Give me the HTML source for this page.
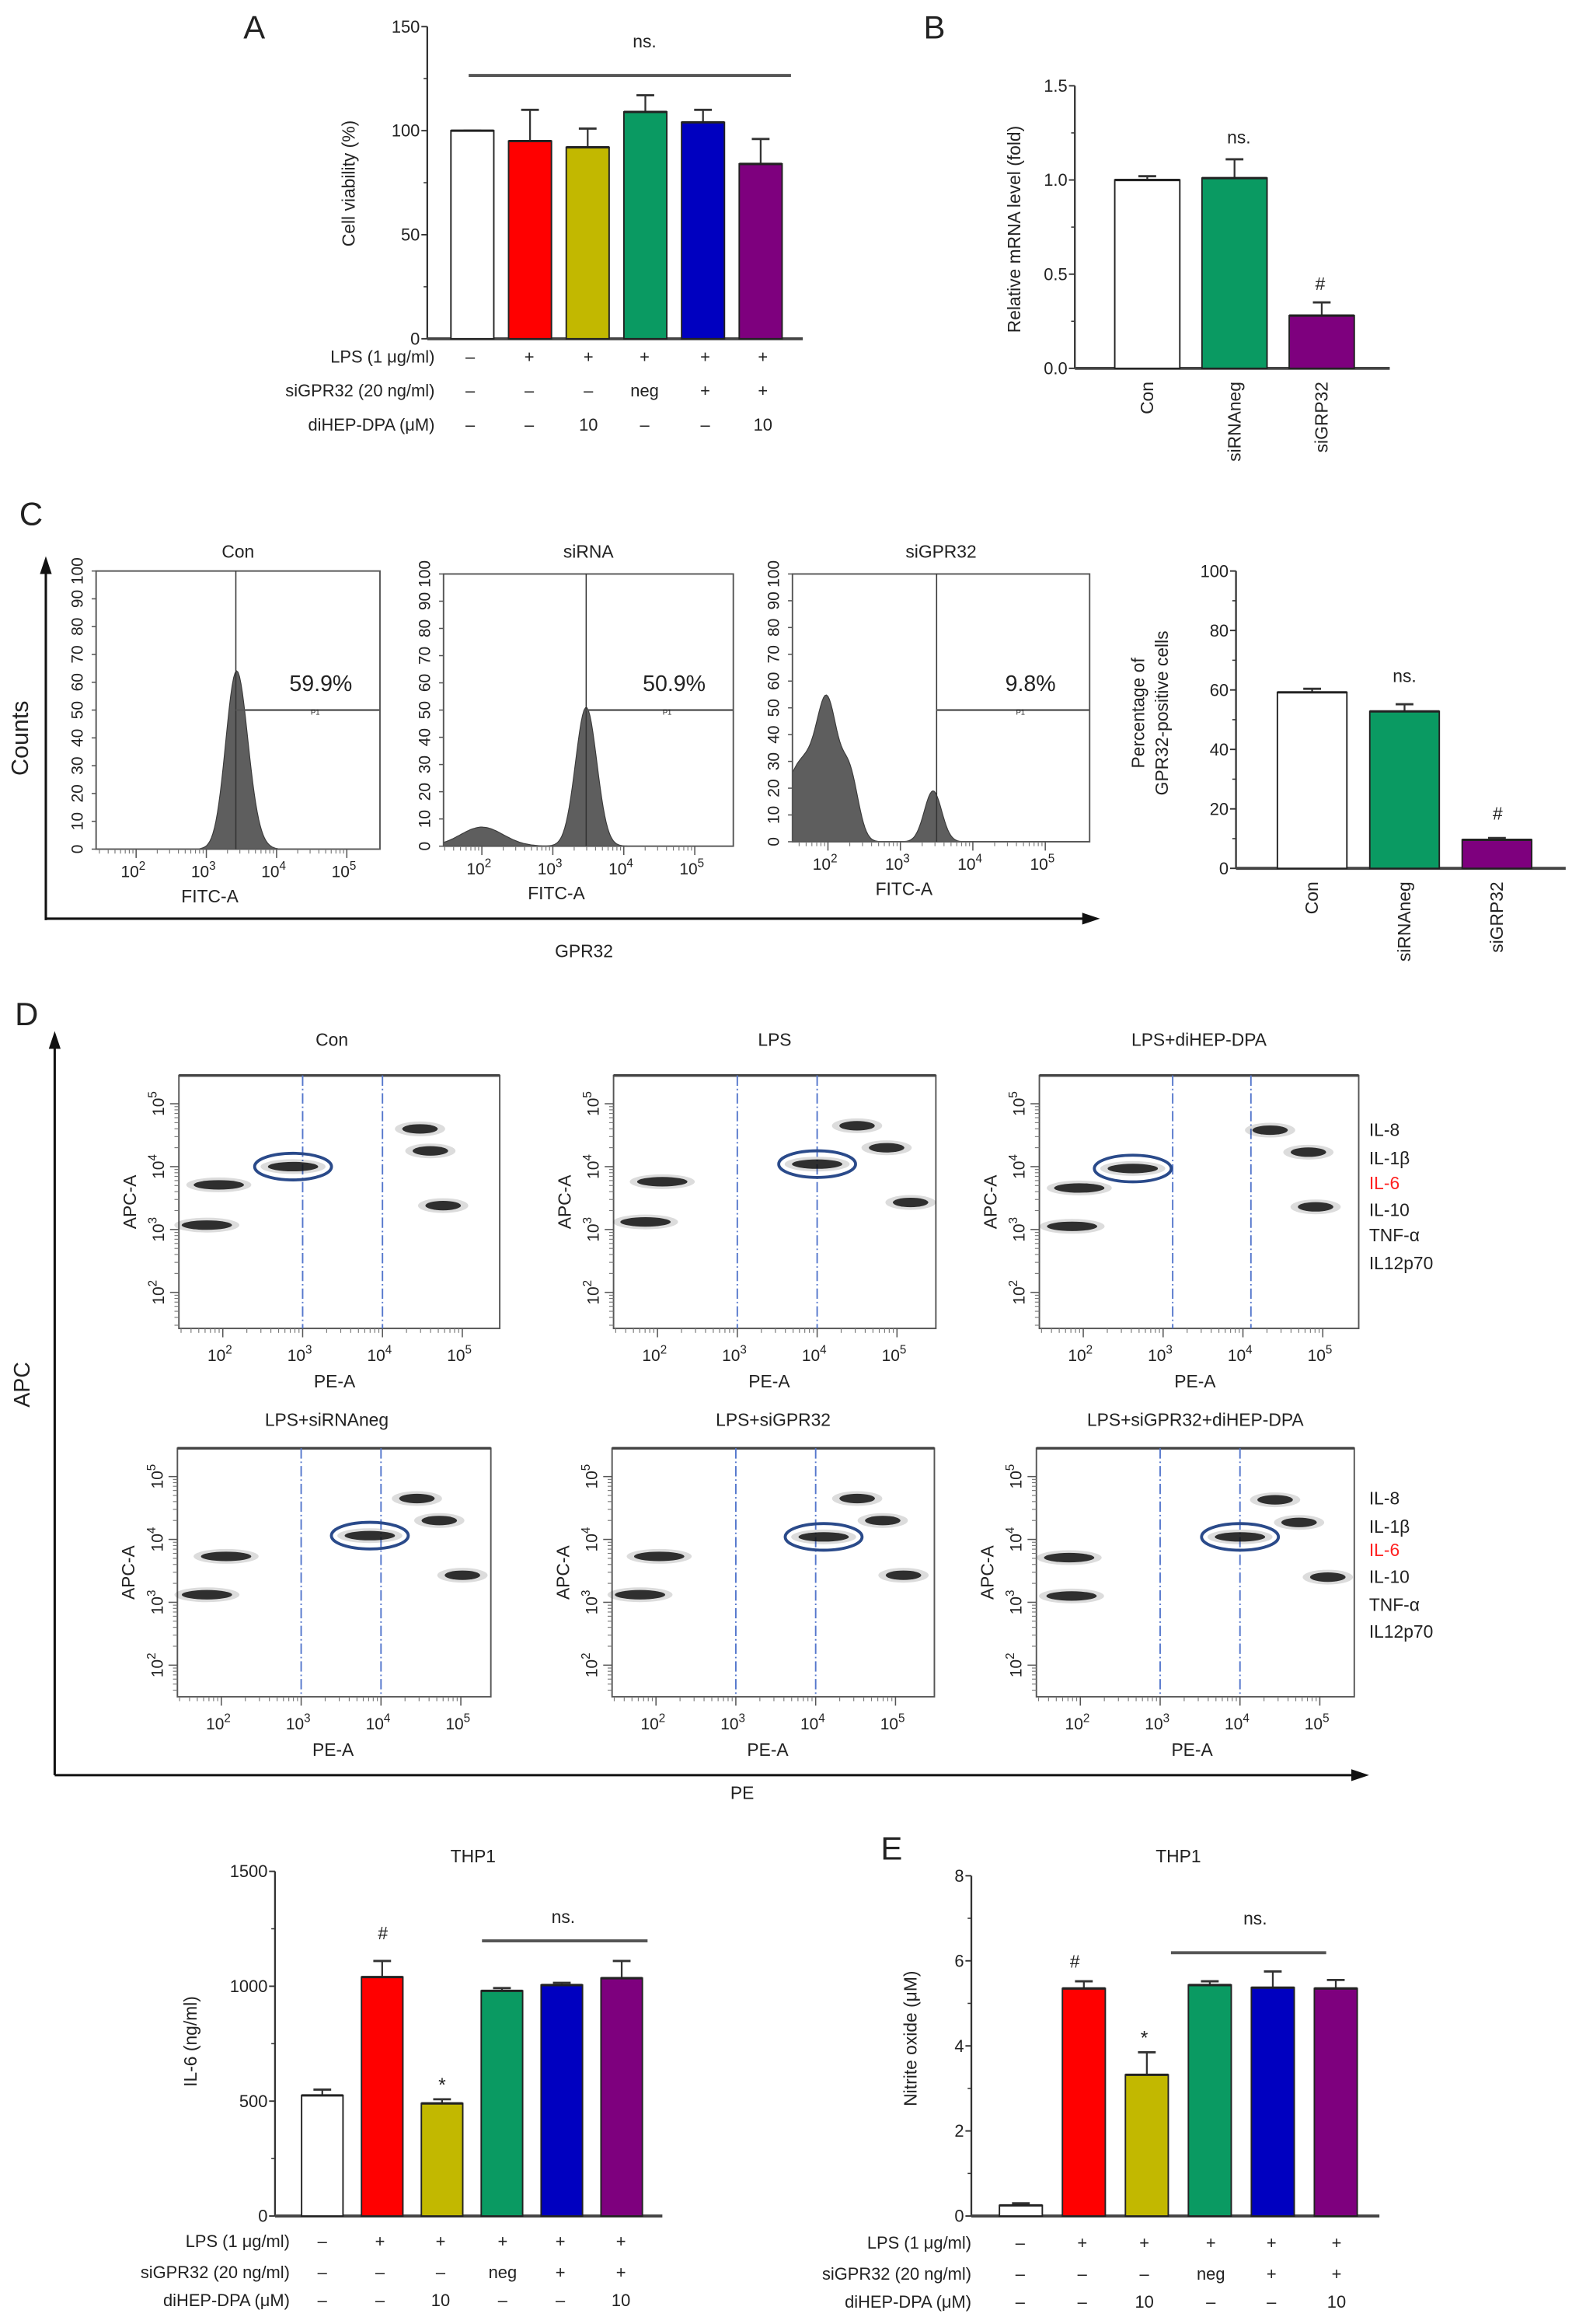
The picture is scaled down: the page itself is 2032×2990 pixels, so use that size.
<!DOCTYPE html>
<html><head><meta charset="utf-8">
<style>
html,body{margin:0;padding:0;background:#fff;}
svg{display:block;font-family:"Liberation Sans",Arial,sans-serif;}
</style></head>
<body>
<svg id="fig" width="2032" height="2990" viewBox="0 0 1068 1571" preserveAspectRatio="none" xmlns="http://www.w3.org/2000/svg">
<rect x="0" y="0" width="1068" height="1571" fill="#fff"/>
</svg>
<script>
// ---------- DATA ----------
const barColors = ['#ffffff','#ff0000','#c2b800','#0a9a62','#0000c0','#7e007e'];
// Panel A
const aValues = [100, 95, 92, 109, 104, 84];
const aErrors = [100, 110, 101, 117, 110, 96];
const aTicks = [0, 50, 100, 150];
const condLPS = ['–','+','+','+','+','+'];
const condSi = ['–','–','–','neg','+','+'];
const condDi = ['–','–','10','–','–','10'];
// Panel B
const bCats = ['Con','siRNAneg','siGRP32'];
const bValues = [1.0, 1.01, 0.28];
const bErrors = [1.02, 1.11, 0.35];
const bTicks = [0.0, 0.5, 1.0, 1.5];
const bColors = ['#ffffff','#0a9a62','#7e007e'];
// Panel C bar
const cCats = ['Con','siRNAneg','siGRP32'];
const cValues = [59.2, 52.8, 9.6];
const cErrors = [60.4, 55.2, 10.2];
const cTicks = [0, 20, 40, 60, 80, 100];
// Panel C histograms: [log10 center, count height, sigma (decades)]
const histTitles = ['Con','siRNA','siGPR32'];
const histPct = ['59.9%','50.9%','9.8%'];
const histGate = [3.42, 3.47, 3.5];
const histPeaks = [
  [[3.42, 60, 0.15],[3.6, 8, 0.15]],
  [[3.47, 51, 0.15],[2.0, 7, 0.3]],
  [[2.0, 42, 0.14],[1.65, 30, 0.25],[2.3, 24, 0.12],[3.45, 19, 0.12]]
];
// Panel D scatter: clusters [log PE, log APC]
const scatterTitles = ['Con','LPS','LPS+diHEP-DPA','LPS+siRNAneg','LPS+siGPR32','LPS+siGPR32+diHEP-DPA'];
const scatterGates = [[3.0,4.0],[3.0,4.0],[3.12,4.1],[3.0,4.0],[3.0,4.0],[3.0,4.0]];
const scatterClusters = [
  [[1.95,3.71],[1.8,3.07],[2.88,4.0],[4.47,4.6],[4.6,4.25],[4.76,3.38]],
  [[2.06,3.76],[1.85,3.12],[4.0,4.04],[4.5,4.65],[4.87,4.3],[5.17,3.43]],
  [[1.95,3.66],[1.86,3.05],[2.62,3.97],[4.34,4.58],[4.82,4.23],[4.91,3.36]],
  [[2.06,3.73],[1.82,3.12],[3.86,4.06],[4.45,4.65],[4.73,4.3],[5.02,3.43]],
  [[2.04,3.73],[1.8,3.12],[4.1,4.04],[4.52,4.65],[4.84,4.3],[5.1,3.43]],
  [[1.86,3.71],[1.89,3.1],[4.0,4.04],[4.44,4.63],[4.74,4.27],[5.1,3.4]]
];
const circledIndex = 2;
const legendLabels = ['IL-8','IL-1β','IL-6','IL-10','TNF-α','IL12p70'];
// Panel IL-6
const il6Values = [525, 1040, 490, 980, 1005, 1035];
const il6Errors = [550, 1110, 508, 992, 1015, 1110];
const il6Ticks = [0, 500, 1000, 1500];
// Panel E
const eValues = [0.25, 5.35, 3.32, 5.43, 5.37, 5.35];
const eErrors = [0.3, 5.52, 3.85, 5.52, 5.75, 5.55];
const eTicks = [0, 2, 4, 6, 8];

// ---------- HELPERS ----------
const NS = 'http://www.w3.org/2000/svg';
const svg = document.getElementById('fig');
function mk(tag, attrs, parent, txt){
  const e = document.createElementNS(NS, tag);
  for (const k in attrs) e.setAttribute(k, attrs[k]);
  if (txt !== undefined) e.textContent = txt;
  (parent || svg).appendChild(e);
  return e;
}
function txt(x, y, s, size, anchor, parent, extra){
  const a = {x:x, y:y, 'font-size':size, 'text-anchor':anchor||'middle', fill:'#222'};
  if (extra) for (const k in extra) a[k] = extra[k];
  return mk('text', a, parent, s);
}
function group(name){
  const g = mk('g', {});
  
  
  return g;
}

function barChart(o){
  const g = group(o.name);
  const ys = v => o.yBot - v / o.vmax * (o.yBot - o.yTop);
  let e = mk('line', {x1:o.ax, y1:o.yTop, x2:o.ax, y2:o.yBot, stroke:'#333', 'stroke-width':1.2}, g);
  
  
  e = mk('line', {x1:o.ax, y1:o.yBot, x2:o.axEnd, y2:o.yBot, stroke:'#444', 'stroke-width':2}, g);
  
  
  o.ticks.forEach((t, i) => {
    const y = ys(t);
    mk('line', {x1:o.ax-4, y1:y, x2:o.ax, y2:y, stroke:'#333', 'stroke-width':1}, g);
    if (i < o.ticks.length - 1) {
      const ym = ys((t + o.ticks[i+1]) / 2);
      mk('line', {x1:o.ax-2.5, y1:ym, x2:o.ax, y2:ym, stroke:'#333', 'stroke-width':0.8}, g);
    }
    const lab = txt(o.ax-5, y+4, o.fmt ? o.fmt(t) : String(t), 11.5, 'end', g);
    
    
  });
  const yl = txt(0, 0, o.ylabel, 12, 'middle', g, {transform:'translate(' + o.ylx + ',' + o.yly + ') rotate(-90)'});
  
  
  if (o.ylabel2) {
    const yl2 = txt(0, 0, o.ylabel2, 12, 'middle', g, {transform:'translate(' + (o.ylx+16) + ',' + o.yly + ') rotate(-90)'});
    
    
  }
  o.values.forEach((v, i) => {
    const x = o.first + i * o.pitch;
    const cx = x + o.w / 2;
    const yv = ys(v), ye = ys(o.errors[i]);
    const er = mk('line', {x1:cx, y1:ye, x2:cx, y2:yv, stroke:'#333', 'stroke-width':1.2}, g);
    
    
    mk('line', {x1:cx-6, y1:ye, x2:cx+6, y2:ye, stroke:'#333', 'stroke-width':1.5}, g);
    const b = mk('rect', {x:x, y:yv, width:o.w, height:o.yBot - yv, fill:o.colors[i], stroke:'#222', 'stroke-width':1}, g);
    
    
    mk('line', {x1:x, y1:yv, x2:x+o.w, y2:yv, stroke:'#222', 'stroke-width':1.6}, g);
    if (o.cats) {
      const c = txt(0, 0, o.cats[i], 12, 'end', g, {transform:'translate(' + (cx+4) + ',' + o.catY + ') rotate(-90)'});
      
      
    }
  });
  return {g:g, ys:ys};
}
function condRows(g, labels, rows, cols, yRows, labelRight){
  rows.forEach((r, ri) => {
    const l = txt(labelRight, yRows[ri] + 4, labels[ri], 11.5, 'end', g);
    
    
    r.forEach((s, ci) => {
      const t = txt(cols[ci], yRows[ri] + 4, s, 11.5, 'middle', g);
      
      
    });
  });
}
const condLabels = ['LPS (1 μg/ml)','siGPR32 (20 ng/ml)','diHEP-DPA (μM)'];
const condData = [condLPS, condSi, condDi];

// ---------- PANEL A ----------
let p = barChart({name:'panel-a-chart', ax:289, axEnd:543, yTop:18, yBot:229, vmax:150, ticks:aTicks,
  values:aValues, errors:aErrors, colors:barColors, first:305, pitch:39, w:29,
  ylabel:'Cell viability (%)', ylx:240, yly:124});
let e = txt(172, 26, 'A', 22, 'middle');


mk('line', {x1:317, y1:51, x2:535, y2:51, stroke:'#555', 'stroke-width':2}, p.g);
txt(436, 32, 'ns.', 12, 'middle', p.g);
condRows(p.g, condLabels, condData, [318,358,398,436,477,516], [241,264,287], 294);

// ---------- PANEL B ----------
p = barChart({name:'panel-b-chart', ax:727, axEnd:940, yTop:58, yBot:249, vmax:1.5, ticks:bTicks,
  values:bValues, errors:bErrors, colors:bColors, first:754, pitch:59, w:44, cats:bCats, catY:258,
  fmt:t => t.toFixed(1), ylabel:'Relative mRNA level (fold)', ylx:690, yly:155});
e = txt(632, 26, 'B', 22, 'middle');


txt(838, 97, 'ns.', 12, 'middle', p.g);
txt(893, 196, '#', 12, 'middle', p.g);

// ---------- PANEL C ----------
e = txt(21, 355, 'C', 22, 'middle');


const gC = group('panel-c-flow');
mk('line', {x1:31, y1:622, x2:31, y2:386, stroke:'#111', 'stroke-width':1.6}, gC);
mk('polygon', {points:'31,376 27,388 35,388', fill:'#111'}, gC);
mk('line', {x1:31, y1:621, x2:734, y2:621, stroke:'#111', 'stroke-width':1.6}, gC);
mk('polygon', {points:'744,621 732,617 732,625', fill:'#111'}, gC);
e = txt(0, 0, 'Counts', 16, 'middle', gC, {transform:'translate(19,499) rotate(-90)'});


e = txt(395, 647, 'GPR32', 12, 'middle', gC);


const histBoxes = [[65,257,386,574,1.43,47.5],[300,496,388,572,1.46,48],[536,737,388,569,1.51,49]];
histBoxes.forEach((b, i) => {
  const hg = group('histogram-' + histTitles[i].toLowerCase());
  svg.removeChild(hg); gC.appendChild(hg);
  const [L, R, T, B, lmin, dec] = b;
  const xs = l => L + (l - lmin) * dec;
  const ysh = c => B - c / 100 * (B - T);
  let d = 'M' + L + ',' + B;
  for (let x = L; x <= R; x += 1) {
    const l = lmin + (x - L) / dec;
    let c = 0;
    histPeaks[i].forEach(pk => { c += pk[1] * Math.exp(-0.5 * Math.pow((l - pk[0]) / pk[2], 2)); });
    d += ' L' + x + ',' + ysh(Math.min(c, 100)).toFixed(1);
  }
  d += ' L' + R + ',' + B + ' Z';
  const hp = mk('path', {d:d, fill:'#5e5e5e', stroke:'#3a3a3a', 'stroke-width':0.6}, hg);
  
  
  mk('rect', {x:L, y:T, width:R-L, height:B-T, fill:'none', stroke:'#555', 'stroke-width':1}, hg);
  const gx = xs(histGate[i]);
  mk('line', {x1:gx, y1:T, x2:gx, y2:B, stroke:'#333', 'stroke-width':0.8}, hg);
  const gy = 480;
  mk('line', {x1:gx, y1:gy, x2:R, y2:gy, stroke:'#555', 'stroke-width':1.2}, hg);
  txt((gx+R)/2 + 5, gy+3, 'P1', 5, 'middle', hg);
  const pct = txt(R - 40, 467, histPct[i], 15, 'middle', hg);
  
  
  const ti = txt((L+R)/2, 377, histTitles[i], 12, 'middle', hg);
  
  
  for (let v = 0; v <= 100; v += 10) {
    const y = ysh(v);
    mk('line', {x1:L-3, y1:y, x2:L, y2:y, stroke:'#555', 'stroke-width':0.8}, hg);
    txt(0, 0, String(v), 11, 'middle', hg, {transform:'translate(' + (L-9) + ',' + y + ') rotate(-90)'});
  }
  for (let k = 2; k <= 5; k++) {
    const x = xs(k);
    mk('line', {x1:x, y1:B, x2:x, y2:B+6, stroke:'#555', 'stroke-width':0.8}, hg);
    const t = mk('text', {x:x-2, y:B+19, 'font-size':11, 'text-anchor':'middle', fill:'#222'}, hg);
    t.innerHTML = '10<tspan dy="-5" font-size="8">' + k + '</tspan>';
    
    
    for (let m = 2; m <= 9; m++) {
      const xm = xs(k - 1 + Math.log10(m));
      if (xm > L && xm < R) mk('line', {x1:xm, y1:B, x2:xm, y2:B+3, stroke:'#777', 'stroke-width':0.6}, hg);
    }
  }
  const fx = txt(xs(3.05), B + 36, 'FITC-A', 12, 'middle', hg);
  
  
});
p = barChart({name:'panel-c-chart', ax:836, axEnd:1059, yTop:386, yBot:587, vmax:100, ticks:cTicks,
  values:cValues, errors:cErrors, colors:bColors, first:864, pitch:62.5, w:47, cats:cCats, catY:596,
  ylabel:'Percentage of', ylabel2:'GPR32-positive cells', ylx:774, yly:482});
txt(950, 461, 'ns.', 12, 'middle', p.g);
txt(1013, 554, '#', 12, 'middle', p.g);

// ---------- PANEL D ----------
e = txt(18, 693, 'D', 22, 'middle');


const gD = group('panel-d-flow');
mk('line', {x1:37, y1:1200, x2:37, y2:708, stroke:'#111', 'stroke-width':1.6}, gD);
mk('polygon', {points:'37,697 33,709 41,709', fill:'#111'}, gD);
mk('line', {x1:37, y1:1200, x2:915, y2:1200, stroke:'#111', 'stroke-width':1.6}, gD);
mk('polygon', {points:'926,1200 914,1196 914,1204', fill:'#111'}, gD);
e = txt(0, 0, 'APC', 15, 'middle', gD, {transform:'translate(20,936) rotate(-90)'});


e = txt(502, 1216, 'PE', 12, 'middle', gD);


const scatterBoxes = [[121,338,727,898],[415,633,727,898],[703,919,727,898],[120,332,979,1147],[414,632,979,1147],[701,916,979,1147]];
scatterBoxes.forEach((b, i) => {
  const sg = group('scatter-' + i);
  svg.removeChild(sg); gD.appendChild(sg);
  const [L, R, T, B] = b;
  const xs = l => L + (l - 1.45) * 54;
  const ysl = l => T + (5.45 - l) * 42.5;
  mk('rect', {x:L, y:T, width:R-L, height:B-T, fill:'none', stroke:'#555', 'stroke-width':1}, sg);
  mk('line', {x1:L, y1:T, x2:R, y2:T, stroke:'#444', 'stroke-width':1.8}, sg);
  scatterGates[i].forEach(gl => {
    const gx = xs(gl);
    const ln = mk('line', {x1:gx, y1:T, x2:gx, y2:B, stroke:'#5577cc', 'stroke-width':1, 'stroke-dasharray':'7 2 1 2'}, sg);
    
    
  });
  scatterClusters[i].forEach((c, ci) => {
    const cx = xs(c[0]), cy = ysl(c[1]);
    const rx = (ci < 2 || ci === circledIndex) ? 17 : 12;
    mk('ellipse', {cx:cx, cy:cy, rx:rx+5, ry:5, fill:'#111', opacity:0.15}, sg);
    const cl = mk('ellipse', {cx:cx, cy:cy, rx:rx, ry:3.2, fill:'#111', opacity:0.85}, sg);
    
    
    if (ci === circledIndex) {
      const ring = mk('ellipse', {cx:cx, cy:cy, rx:26, ry:9, fill:'none', stroke:'#2a4a8a', 'stroke-width':2}, sg);
      
      
    }
  });
  const ti = txt((L+R)/2 - (i%3==0?5:0), T - (i < 3 ? 20 : 15), scatterTitles[i], 12, 'middle', sg);
  
  
  for (let k = 2; k <= 5; k++) {
    const x = xs(k), y = ysl(k);
    mk('line', {x1:x, y1:B, x2:x, y2:B+6, stroke:'#555', 'stroke-width':0.8}, sg);
    mk('line', {x1:L-6, y1:y, x2:L, y2:y, stroke:'#555', 'stroke-width':0.8}, sg);
    const t = mk('text', {x:x-2, y:B+22, 'font-size':11, 'text-anchor':'middle', fill:'#222'}, sg);
    t.innerHTML = '10<tspan dy="-5" font-size="8">' + k + '</tspan>';
    
    
    const t2 = mk('text', {'font-size':11, 'text-anchor':'middle', fill:'#222', transform:'translate(' + (L-10) + ',' + y + ') rotate(-90)'}, sg);
    t2.innerHTML = '10<tspan dy="-5" font-size="8">' + k + '</tspan>';
    
    
    for (let m = 2; m <= 9; m++) {
      const xm = xs(k - 1 + Math.log10(m)), ym = ysl(k - 1 + Math.log10(m));
      if (xm > L && xm < R) mk('line', {x1:xm, y1:B, x2:xm, y2:B+3, stroke:'#777', 'stroke-width':0.6}, sg);
      if (ym > T && ym < B) mk('line', {x1:L-3, y1:ym, x2:L, y2:ym, stroke:'#777', 'stroke-width':0.6}, sg);
    }
  }
  const yt = txt(0, 0, 'APC-A', 12, 'middle', sg, {transform:'translate(' + (L-29) + ',' + ((T+B)/2) + ') rotate(-90)'});
  
  
  const xt = txt(xs(3.4), B + 40, 'PE-A', 12, 'middle', sg);
  
  
});
[[764,783,800,818,835,854],[1013,1032,1048,1066,1085,1103]].forEach((ys, r) => {
  legendLabels.forEach((lab, i) => {
    const t = txt(926, ys[i] + 4, lab, 12, 'start', gD, {fill: i === 2 ? '#ff2020' : '#222'});
    
    
  });
});

// ---------- PANEL IL-6 ----------
p = barChart({name:'il6-chart', ax:186, axEnd:448, yTop:1265, yBot:1498, vmax:1500, ticks:il6Ticks,
  values:il6Values, errors:il6Errors, colors:barColors, first:204, pitch:40.5, w:28,
  ylabel:'IL-6 (ng/ml)', ylx:133, yly:1380});
txt(320, 1259, 'THP1', 12, 'middle', p.g);
mk('line', {x1:326, y1:1312, x2:438, y2:1312, stroke:'#555', 'stroke-width':2}, p.g);
txt(381, 1300, 'ns.', 12, 'middle', p.g);
txt(259, 1311, '#', 12, 'middle', p.g);
txt(299, 1414, '*', 13, 'middle', p.g);
condRows(p.g, condLabels, condData, [218,257,298,340,379,420], [1515,1536,1555], 196);

// ---------- PANEL E ----------
p = barChart({name:'panel-e-chart', ax:657, axEnd:933, yTop:1268, yBot:1498, vmax:8, ticks:eTicks,
  values:eValues, errors:eErrors, colors:barColors, first:676, pitch:42.6, w:29,
  ylabel:'Nitrite oxide (μM)', ylx:620, yly:1378});
e = txt(603, 1257, 'E', 22, 'middle');


txt(797, 1259, 'THP1', 12, 'middle', p.g);
mk('line', {x1:792, y1:1320, x2:897, y2:1320, stroke:'#555', 'stroke-width':2}, p.g);
txt(849, 1301, 'ns.', 12, 'middle', p.g);
txt(727, 1330, '#', 12, 'middle', p.g);
txt(774, 1382, '*', 13, 'middle', p.g);
condRows(p.g, condLabels, condData, [690,732,774,819,860,904], [1516,1537,1556], 657);
</script>
</body></html>
